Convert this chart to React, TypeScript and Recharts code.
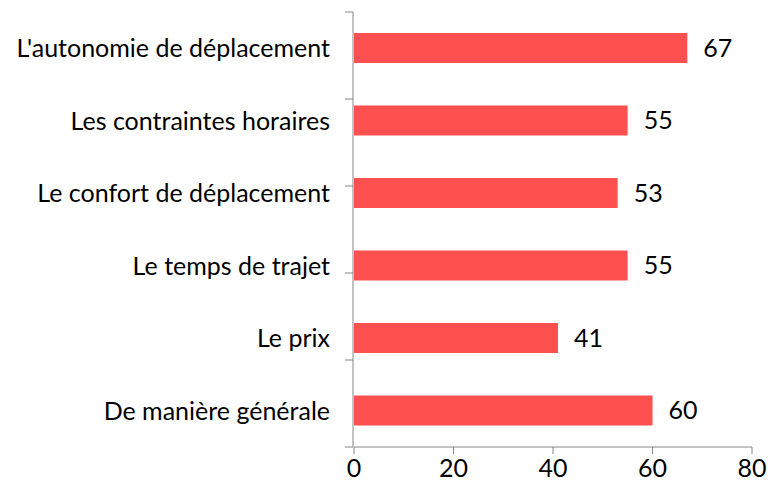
import React from "react";
import { BarChart, Bar, XAxis, YAxis, LabelList } from "recharts";

const CATEGORIES = [
  "L'autonomie de déplacement",
  "Les contraintes horaires",
  "Le confort de déplacement",
  "Le temps de trajet",
  "Le prix",
  "De manière générale",
];
const VALUES = [67, 55, 53, 55, 41, 60];
const X_TICKS = [0, 20, 40, 60, 80];
// band boundaries on the category axis (Excel draws ticks between categories)
const BOUNDARY_TICKS = [0, 1, 2, 3, 4, 5, 6];

const data = CATEGORIES.map((name, i) => ({ name, value: VALUES[i] }));

const FONT = "Lato, 'Open Sans', sans-serif";
const AXIS = "#868686";
const FS = 25;

const NoLabel = () => <g />;

// single-line category label (the default tick wraps on narrow axes)
const CatLabel = (props: any) => {
  const { x, y, payload } = props;
  return (
    <text
      x={x}
      y={y}
      dy="0.355em"
      textAnchor="end"
      fill="#000"
      fontSize={FS}
      fontFamily={FONT}
    >
      {payload.value}
    </text>
  );
};

export default function App() {
  return (
    <div style={{ position: "absolute", left: 0, top: 0, background: "#fff" }}>
      <BarChart
        width={768}
        height={492}
        data={data}
        layout="vertical"
        margin={{ top: 12, right: 16, bottom: 0, left: 0 }}
      >
        <XAxis
          type="number"
          domain={[0, 80]}
          ticks={X_TICKS}
          interval={0}
          height={45}
          stroke={AXIS}
          tickSize={7}
          tickMargin={5}
          tick={{ fill: "#000", fontSize: FS, fontFamily: FONT }}
        />
        <YAxis
          yAxisId="cat"
          type="category"
          dataKey="name"
          width={1}
          axisLine={false}
          tickLine={false}
          tickSize={7}
          tickMargin={17}
          interval={0}
          tick={CatLabel}
        />
        <YAxis
          yAxisId="grid"
          type="number"
          domain={[0, 6]}
          ticks={BOUNDARY_TICKS}
          interval={0}
          width={353}
          stroke={AXIS}
          tickSize={8}
          tick={NoLabel}
        />
        <Bar
          yAxisId="cat"
          dataKey="value"
          fill="#FF5050"
          barSize={30}
          isAnimationActive={false}
        >
          <LabelList
            dataKey="value"
            position="right"
            offset={16}
            style={{ fill: "#000", fontSize: FS, fontFamily: FONT }}
          />
        </Bar>
      </BarChart>
    </div>
  );
}
